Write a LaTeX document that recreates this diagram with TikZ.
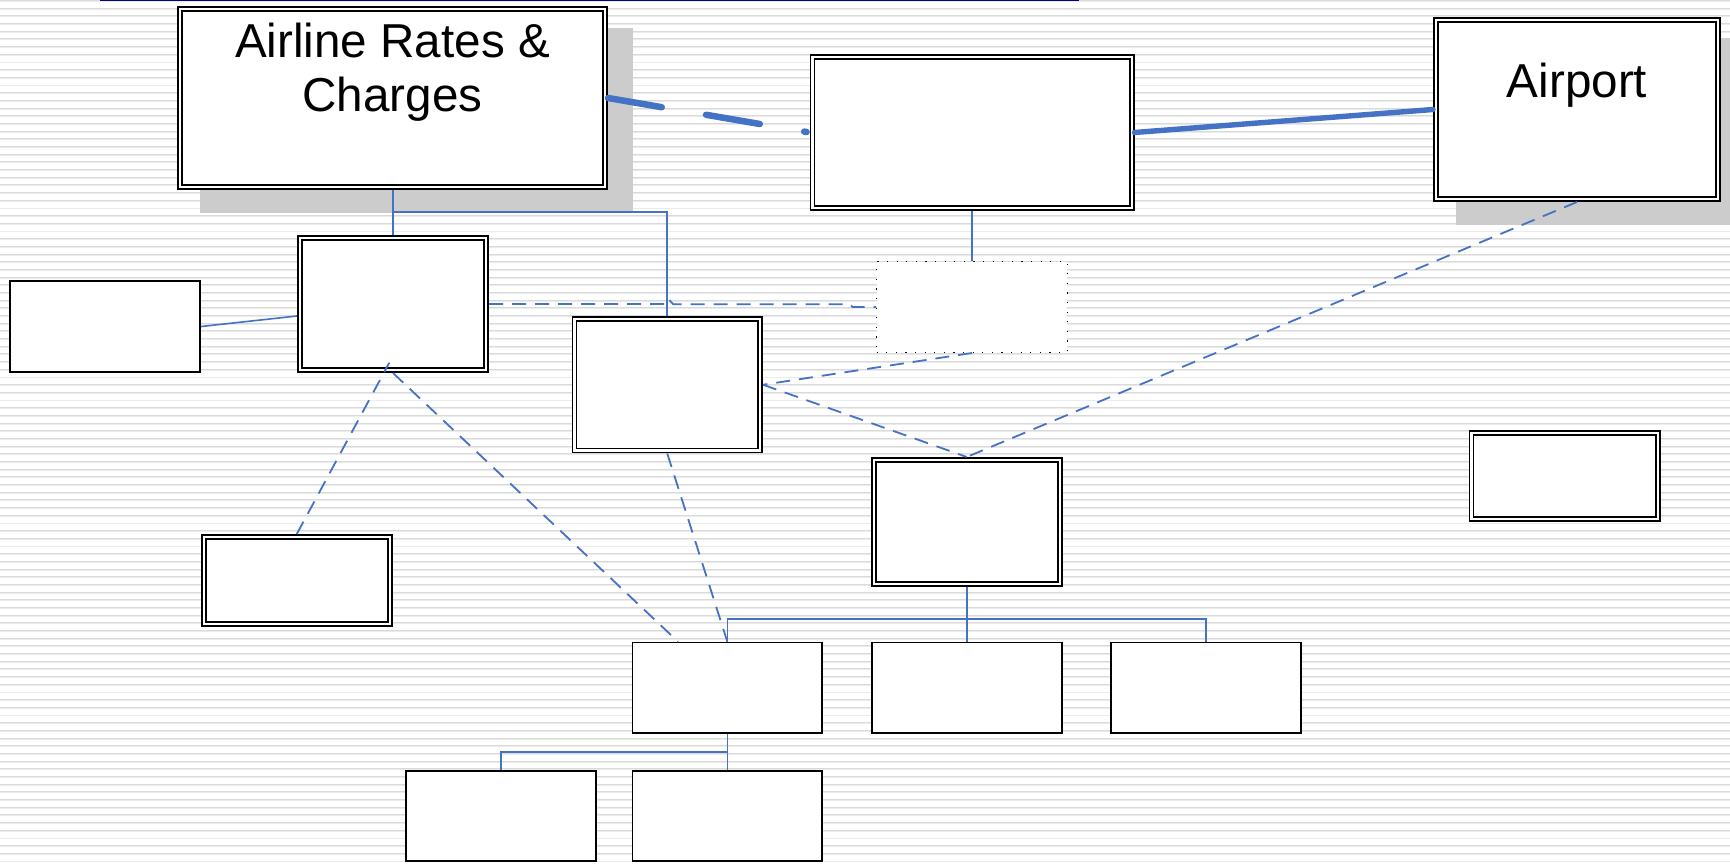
\documentclass[tikz,border=0pt]{standalone}
\usepackage{fontspec}
\setmainfont{Liberation Sans}
\usetikzlibrary{calc}
\definecolor{conblue}{HTML}{4472C4}
\definecolor{stripeA}{HTML}{DADADA}
\definecolor{stripeB}{HTML}{EBEBEB}
\definecolor{shadowgray}{HTML}{CCCCCC}
\definecolor{navyline}{HTML}{000080}
\begin{document}
\begin{tikzpicture}[x=1pt,y=-1pt,
  dbox/.style={draw=black, line width=1.8pt, double=white, double distance=2.2pt, fill=white, inner sep=0pt, outer sep=2.9pt},
  sbox/.style={draw=black, line width=1.7pt, fill=white, inner sep=0pt, outer sep=0.85pt},
  dotbox/.style={draw=black, line width=1.2pt, dash pattern=on 1.2pt off 8.4pt, fill=white, inner sep=0pt, outer sep=0.6pt},
  conn/.style={draw=conblue, line width=1.6pt},
  dconn/.style={draw=conblue, line width=1.8pt, dash pattern=on 14pt off 9pt},
  thickdash/.style={draw=conblue, line width=6.5pt, line cap=round, dash pattern=on 54.5pt off 45pt},
  thickline/.style={draw=conblue, line width=5.4pt, line cap=round},
  txt/.style={font=\fontsize{47.6}{54}\selectfont, align=center, inner sep=0pt, text=black},
]
\useasboundingbox (0,0) rectangle (1730,866);
\clip (0,0) rectangle (1730,866);
% striped background
\fill[white] (0,0) rectangle (1730,866);
\foreach \i in {0,...,112} {
  \pgfmathsetmacro\yy{0.52+7.683*\i}
  \draw[stripeA, line width=0.9pt] (0,\yy) -- (1730,\yy);
  \draw[stripeB, line width=1pt] (0,\yy+0.95) -- (1730,\yy+0.95);
}
% top rule
\draw[navyline, line width=1.4pt] (100,0.7) -- (1079,0.7);
% shadows
\fill[shadowgray] (200,28) rectangle (633,213);
\fill[shadowgray] (1456,38) rectangle (1735,225);

% boxes
\node[dbox, minimum width=425.2pt, minimum height=178.2pt,
  label={[txt,anchor=north,yshift=-16.5pt]north:{Airline Rates \&\\Charges}}] (air) at (392.5,98) {};
\node[dbox, minimum width=319.2pt, minimum height=151.2pt] (mid) at (972,132.5) {};
\node[dbox, minimum width=282.2pt, minimum height=179.2pt,
  label={[txt,anchor=north,yshift=-45.5pt]north:{Airport}}] (apt) at (1577,109.5) {};
\node[dbox, minimum width=186.2pt, minimum height=132.2pt] (B) at (393,304) {};
\node[dbox, minimum width=185.7pt, minimum height=131.7pt] (C) at (667.25,384.75) {};
\node[dbox, minimum width=185.7pt, minimum height=123.7pt] (D) at (966.75,521.75) {};
\node[dbox, minimum width=186.2pt, minimum height=85.9pt] (R) at (1564.5,476.15) {};
\node[dbox, minimum width=186.2pt, minimum height=86.9pt] (E) at (296.8,580.35) {};
\node[sbox, minimum width=190.3pt, minimum height=91pt] (L) at (104.8,326.55) {};
\node[dotbox, minimum width=190.8pt, minimum height=90.8pt] (dot) at (972,307) {};
\node[sbox, minimum width=189.6pt, minimum height=90.3pt] (b1) at (727.35,687.7) {};
\node[sbox, minimum width=189.8pt, minimum height=90.3pt] (b2) at (966.75,687.7) {};
\node[sbox, minimum width=190pt, minimum height=90.3pt] (b3) at (1206.15,687.7) {};
\node[sbox, minimum width=190.3pt, minimum height=90pt] (c1) at (501,816.15) {};
\node[sbox, minimum width=189.6pt, minimum height=90pt] (c2) at (727.35,816.15) {};

\coordinate (j1) at (393,212);
\coordinate (j2) at (966.75,619);
\coordinate (j3) at (727.35,752);
\coordinate (bs) at (389.3,362.7);

% thick connectors
\draw[thickdash, shorten >=3pt] (air.east) -- (mid.west);
\draw[thickline] (mid.east) -- (apt.west);

% solid thin connectors
\draw[conn] (B.north) -- (B.north |- air.south);
\draw[conn] (j1) -| (C.north);
\draw[conn] (mid.south) -- (dot.north);
\draw[conn] (L.east) -- ($(B.west)+(0,12)$);
\draw[conn] (D.south) -- (b2.north);
\draw[conn] (b1.north) |- (j2) -| (b3.north);
\draw[conn] (b1.south) -- (c2.north);
\draw[conn] (j3) -| (c1.north);

% dashed thin connectors
\draw[dconn] (B.east) -- (667.3,304) -- (668.8,299.5) -- (673.3,304.3) -- (850,304.3) -- (852.5,307) -- (dot.west);
\draw[dconn] (dot.south) -- (C.east);
\draw[dconn] (C.east) -- (D.north);
\draw[dconn] (apt.south) -- (D.north);
\draw[dconn] (E.north) -- (bs);
\draw[dconn] (B.south) -- ($(b1.north)+(-49.3,0)$);
\draw[dconn] (C.south) -- (b1.north);
\end{tikzpicture}
\end{document}
